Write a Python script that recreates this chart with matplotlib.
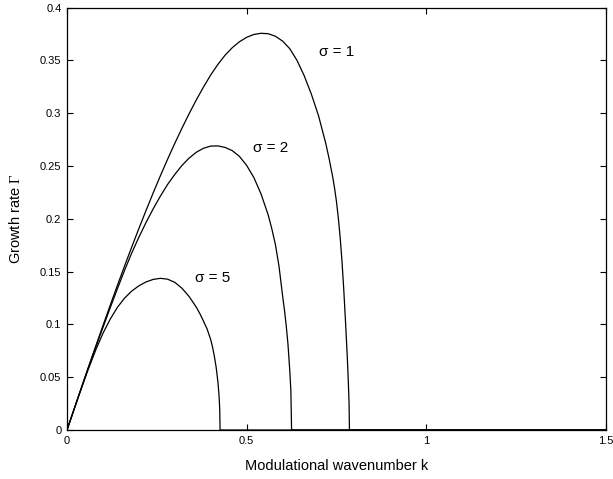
import numpy as np
import matplotlib
matplotlib.use("Agg")
import matplotlib.pyplot as plt

plt.rcParams['font.family'] = ['Liberation Sans', 'DejaVu Sans']
plt.rcParams['mathtext.fontset'] = 'custom'
plt.rcParams['mathtext.rm'] = 'Liberation Serif'
plt.rcParams['mathtext.it'] = 'Liberation Serif:italic'

# growth rate curves (k, Gamma)
k_s1 = [0, 0.02, 0.04, 0.06, 0.08, 0.10, 0.12, 0.14, 0.16, 0.18, 0.20,
        0.22, 0.24, 0.26, 0.28, 0.30, 0.32, 0.34, 0.36, 0.38, 0.40,
        0.42, 0.44, 0.46, 0.48, 0.50, 0.52, 0.54, 0.56, 0.58, 0.60,
        0.62, 0.64, 0.66, 0.68, 0.70, 0.72, 0.73, 0.74, 0.745, 0.75,
        0.755, 0.76, 0.765, 0.77, 0.775, 0.78, 0.783, 0.785, 0.786, 1.5]
g_s1 = [0, 0.0200, 0.0400, 0.0598, 0.0794, 0.0988, 0.1179, 0.1367, 0.1551, 0.1731, 0.1907,
        0.2079, 0.2246, 0.2408, 0.2564, 0.2714, 0.2858, 0.2996, 0.3126, 0.3248, 0.3362,
        0.3462, 0.3549, 0.3620, 0.3676, 0.3718, 0.3745, 0.3756, 0.3752, 0.3728, 0.3682,
        0.3610, 0.3500, 0.3355, 0.3180, 0.2975, 0.2715, 0.2560, 0.2385, 0.2280, 0.2160,
        0.2010, 0.1830, 0.1610, 0.1340, 0.1030, 0.0690, 0.0450, 0.0250, 0, 0]

k_s2 = [0, 0.02, 0.04, 0.06, 0.08, 0.10, 0.12, 0.14, 0.16, 0.18, 0.20,
        0.22, 0.24, 0.26, 0.28, 0.30, 0.32, 0.34, 0.36, 0.38, 0.40,
        0.42, 0.44, 0.46, 0.48, 0.50, 0.52, 0.54, 0.56, 0.57, 0.58,
        0.59, 0.60, 0.605, 0.61, 0.615, 0.62, 0.623, 0.625, 1.5]
g_s2 = [0, 0.020, 0.0399, 0.0597, 0.0785, 0.0970, 0.1155, 0.1335, 0.1510, 0.1675, 0.1825,
        0.1965, 0.2095, 0.2215, 0.2325, 0.2420, 0.2505, 0.2575, 0.2630, 0.2668, 0.2688,
        0.2690, 0.2675, 0.2645, 0.2590, 0.2505, 0.2390, 0.2235, 0.2035, 0.1905, 0.1755,
        0.1550, 0.1270, 0.1140, 0.0990, 0.0810, 0.0560, 0.0370, 0, 0]

k_s5 = [0, 0.02, 0.04, 0.06, 0.08, 0.10, 0.12, 0.14, 0.16, 0.18, 0.20,
        0.22, 0.24, 0.26, 0.28, 0.30, 0.32, 0.34, 0.36, 0.37, 0.38,
        0.39, 0.40, 0.405, 0.41, 0.415, 0.42, 0.423, 0.425, 0.426, 1.5]
g_s5 = [0, 0.0199, 0.0394, 0.0582, 0.0758, 0.0915, 0.1048, 0.1160, 0.1248, 0.1315, 0.1365,
        0.1402, 0.1426, 0.1436, 0.1428, 0.1398, 0.1342, 0.1263, 0.1162, 0.1100, 0.1030,
        0.0955, 0.0855, 0.0785, 0.0700, 0.0595, 0.0455, 0.0330, 0.0200, 0, 0]

curve_labels = ['σ = 1', 'σ = 2', 'σ = 5']
label_k = [0.70, 0.518, 0.356]
label_g = [0.358, 0.267, 0.144]


def main():
    fig = plt.figure(figsize=(6.13, 4.79), dpi=100)
    ax = fig.add_axes([0.1093, 0.1023, 0.8793, 0.882])

    for k, g in [(k_s1, g_s1), (k_s2, g_s2), (k_s5, g_s5)]:
        ax.plot(k, g, color='black', linewidth=0.9)

    for txt, x, y in zip(curve_labels, label_k, label_g):
        ax.text(x, y, txt, fontsize=11, ha='left', va='center')

    ax.set_xlim(0, 1.5)
    ax.set_ylim(0, 0.4)
    ax.set_xticks([0, 0.5, 1, 1.5])
    ax.set_xticklabels(['0', '0.5', '1', '1.5'])
    ax.set_yticks(np.arange(0, 0.41, 0.05))
    ax.set_yticklabels(['0', '0.05', '0.1', '0.15', '0.2', '0.25', '0.3', '0.35', '0.4'])
    ax.tick_params(direction='in', top=True, right=True, length=4, width=0.8,
                   labelsize=8, pad=4)
    for sp in ax.spines.values():
        sp.set_linewidth(0.9)

    ax.set_xlabel('Modulational wavenumber k', fontsize=10.5, labelpad=10)
    ax.set_ylabel('Growth rate $\\Gamma$', fontsize=10.5, labelpad=12)

    fig.savefig('out.png', dpi=100)


if __name__ == "__main__":
    main()
